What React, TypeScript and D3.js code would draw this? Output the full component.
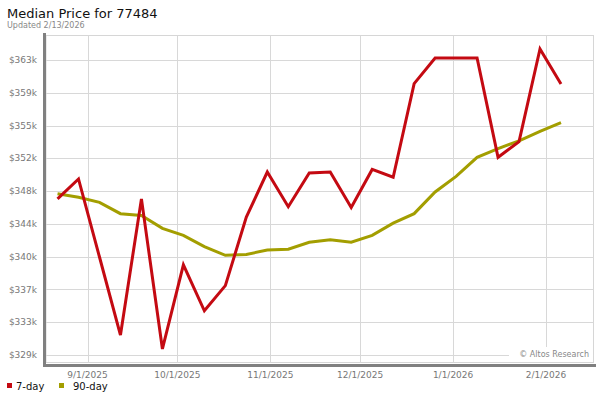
import React from "react";
import * as d3 from "d3";

const dates = [
  "2025-08-22", "2025-08-29", "2025-09-05", "2025-09-12", "2025-09-19", "2025-09-26",
  "2025-10-03", "2025-10-10", "2025-10-17", "2025-10-24", "2025-10-31",
  "2025-11-07", "2025-11-14", "2025-11-21", "2025-11-28",
  "2025-12-05", "2025-12-12", "2025-12-19", "2025-12-26",
  "2026-01-02", "2026-01-09", "2026-01-16", "2026-01-23", "2026-01-30", "2026-02-06",
];

const sevenDay = [
  347.0, 349.3, 340.3, 331.3, 347.0, 329.7, 339.4, 334.1, 337.0, 344.9, 350.1,
  346.1, 350.0, 350.1, 346.0, 350.4, 349.5, 360.3, 363.25, 363.25, 363.25,
  351.8, 353.6, 364.3, 360.25,
];

const ninetyDay = [
  347.6, 347.2, 346.6, 345.3, 345.1, 343.6, 342.8, 341.5, 340.5, 340.6, 341.1,
  341.2, 342.0, 342.3, 342.0, 342.8, 344.2, 345.3, 347.8, 349.6, 351.8,
  352.8, 353.7, 354.8, 355.8,
];

const yTicks = [329.0, 332.78, 336.56, 340.34, 344.12, 347.9, 351.68, 355.46, 359.24, 363.02];
const xTicks = ["2025-09-01", "2025-10-01", "2025-11-01", "2025-12-01", "2026-01-01", "2026-02-01"];
const xTickLabels = ["9/1/2025", "10/1/2025", "11/1/2025", "12/1/2025", "1/1/2026", "2/1/2026"];

const seriesNames = ["7-day", "90-day"];
const seriesColors = ["#c40a12", "#a39e00"];

const FONT = "'DejaVu Sans', Verdana, sans-serif";

export default function App() {
  const left = 46, right = 593.5, top = 35.5, bottom = 362.5;
  const parse = (s: string) => new Date(s + "T00:00:00Z");

  const x = d3.scaleUtc()
    .domain([parse("2025-09-01"), parse("2026-02-01")])
    .range([87.5, 546]);
  const y = d3.scaleLinear().domain([329.0, 363.02]).range([355, 60]);

  const line = d3.line<[Date, number]>()
    .x((d) => x(d[0]))
    .y((d) => y(d[1]));

  const redPts: [Date, number][] = dates.map((d, i) => [parse(d), sevenDay[i]]);
  const olivePts: [Date, number][] = dates.map((d, i) => [parse(d), ninetyDay[i]]);

  return (
    <svg width={600} height={400} style={{ position: "absolute", left: 0, top: 0, background: "#fff" }} fontFamily={FONT}>
      <rect x={0} y={0} width={600} height={400} fill="#fff" />
      <text x={7} y={18} fontSize={13} fill="#111">Median Price for 77484</text>
      <text x={7} y={28} fontSize={8} fill="#888">Updated 2/13/2026</text>

      {/* plot frame */}
      <rect x={left} y={top} width={right - left} height={bottom - top} fill="#fff" stroke="#d6d6d6" strokeWidth={1} />

      {/* gridlines */}
      {yTicks.map((t, i) => (
        <line key={"gy" + i} x1={left} x2={right} y1={Math.round(y(t)) + 0.5} y2={Math.round(y(t)) + 0.5} stroke="#d8d8d8" strokeWidth={1} />
      ))}
      {xTicks.map((t, i) => (
        <line key={"gx" + i} x1={Math.round(x(parse(t))) + 0.5} x2={Math.round(x(parse(t))) + 0.5} y1={top} y2={bottom} stroke="#d8d8d8" strokeWidth={1} />
      ))}

      {/* watermark */}
      <rect x={509} y={347} width={right - 509 - 0.5} height={bottom - 347 - 0.5} fill="#fff" />
      <text x={589} y={357} fontSize={8} fill="#888" textAnchor="end">© Altos Research</text>

      {/* axis shadow bars */}
      <rect x={43} y={33} width={3} height={334} fill="#808080" />
      <rect x={43} y={364} width={553} height={3} fill="#808080" />

      {/* y labels */}
      {yTicks.map((t, i) => (
        <text key={"ly" + i} x={37} y={y(t)} dy="0.35em" fontSize={9} fill="#777" textAnchor="end">
          {"$" + Math.round(t) + "k"}
        </text>
      ))}
      {/* x labels */}
      {xTicks.map((t, i) => (
        <text key={"lx" + i} x={x(parse(t))} y={378} fontSize={9} fill="#777" textAnchor="middle">
          {xTickLabels[i]}
        </text>
      ))}

      {/* series */}
      <path d={line(olivePts) || ""} fill="none" stroke={seriesColors[1]} strokeWidth={3} strokeLinejoin="miter" />
      <path d={line(redPts) || ""} fill="none" stroke={seriesColors[0]} strokeWidth={3} strokeLinejoin="miter" />

      {/* legend */}
      <rect x={7} y={383} width={5} height={5} fill={seriesColors[0]} />
      <text x={16} y={390} fontSize={10} fill="#111">{seriesNames[0]}</text>
      <rect x={59} y={383} width={5} height={5} fill={seriesColors[1]} />
      <text x={73} y={390} fontSize={10} fill="#111">{seriesNames[1]}</text>
    </svg>
  );
}
